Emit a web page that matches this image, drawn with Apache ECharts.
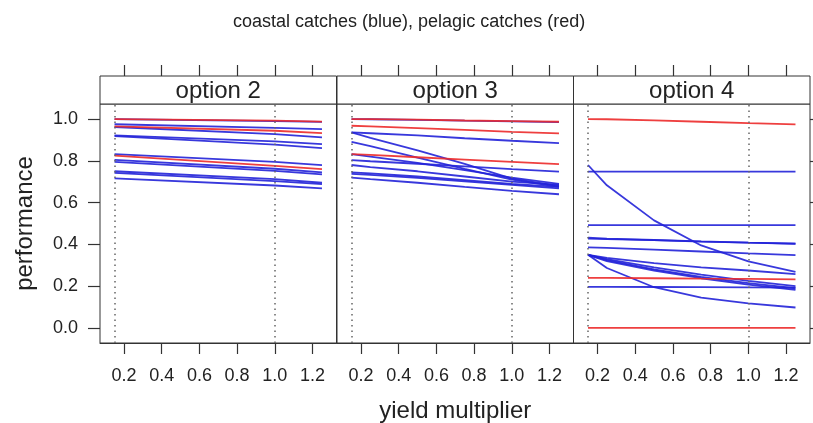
<!DOCTYPE html>
<html>
<head>
<meta charset="utf-8">
<script src="https://cdn.jsdelivr.net/npm/echarts@6/dist/echarts.min.js"></script>
<style>html,body{margin:0;padding:0;background:#fff}#c{width:813px;height:423px}</style>
</head>
<body>
<div id="c"></div>
<script>
// ---- data ----
const chartTitle = 'coastal catches (blue), pelagic catches (red)';
const panelTitles = ['option 2', 'option 3', 'option 4'];
const xTicks = [0.2, 0.4, 0.6, 0.8, 1.0, 1.2];
const yTicks = [0.0, 0.2, 0.4, 0.6, 0.8, 1.0];
const refLines = [0.15, 1.0];

const xsOption2 = [0.15, 1.0, 1.25];
const option2Blue = [
  [1.000, 0.990, 0.986],
  [0.975, 0.958, 0.952],
  [0.962, 0.928, 0.912],
  [0.922, 0.893, 0.880],
  [0.918, 0.878, 0.861],
  [0.832, 0.795, 0.779],
  [0.805, 0.762, 0.745],
  [0.795, 0.752, 0.735],
  [0.750, 0.712, 0.695],
  [0.742, 0.703, 0.688],
  [0.716, 0.682, 0.668]
];
const option2Red = [
  [1.000, 0.992, 0.988],
  [0.965, 0.944, 0.933],
  [0.825, 0.776, 0.760]
];

const xsOption3 = [0.15, 0.25, 0.5, 0.75, 1.0, 1.25];
const option3Blue = [
  [1.000, 0.999, 0.996, 0.992, 0.989, 0.985],
  [0.936, 0.932, 0.922, 0.908, 0.896, 0.885],
  [0.936, 0.910, 0.850, 0.785, 0.715, 0.680],
  [0.891, 0.870, 0.815, 0.762, 0.710, 0.675],
  [0.832, 0.820, 0.790, 0.755, 0.720, 0.690],
  [0.803, 0.798, 0.786, 0.773, 0.760, 0.748],
  [0.780, 0.770, 0.750, 0.725, 0.700, 0.685],
  [0.745, 0.740, 0.725, 0.708, 0.690, 0.675],
  [0.738, 0.733, 0.718, 0.702, 0.685, 0.668],
  [0.720, 0.712, 0.695, 0.675, 0.656, 0.640]
];
const option3Red = [
  [1.000, 1.000, 0.997, 0.993, 0.990, 0.987],
  [0.968, 0.965, 0.957, 0.948, 0.939, 0.931],
  [0.832, 0.828, 0.817, 0.806, 0.795, 0.784]
];

const xsOption4 = [0.15, 0.25, 0.5, 0.75, 1.0, 1.25];
const option4Blue = [
  [0.780, 0.683, 0.515, 0.395, 0.319, 0.269],
  [0.748, 0.748, 0.748, 0.748, 0.748, 0.748],
  [0.492, 0.492, 0.492, 0.492, 0.492, 0.492],
  [0.428, 0.425, 0.420, 0.413, 0.408, 0.404],
  [0.432, 0.428, 0.421, 0.414, 0.408, 0.403],
  [0.386, 0.383, 0.375, 0.366, 0.357, 0.349],
  [0.350, 0.335, 0.310, 0.290, 0.275, 0.258],
  [0.350, 0.330, 0.290, 0.255, 0.225, 0.200],
  [0.350, 0.325, 0.280, 0.245, 0.215, 0.190],
  [0.350, 0.320, 0.275, 0.238, 0.207, 0.182],
  [0.350, 0.287, 0.195, 0.145, 0.118, 0.098],
  [0.197, 0.197, 0.196, 0.195, 0.194, 0.193]
];
const option4Red = [
  [1.000, 0.999, 0.994, 0.987, 0.980, 0.974],
  [0.240, 0.240, 0.238, 0.236, 0.235, 0.233],
  [0.000, 0.000, 0.000, 0.000, 0.000, 0.000]
];

// ---- layout / styling ----
const panels = [
  { xs: xsOption2, blue: option2Blue, red: option2Red },
  { xs: xsOption3, blue: option3Blue, red: option3Red },
  { xs: xsOption4, blue: option4Blue, red: option4Red }
];
const FONT = '"Liberation Sans", Arial, Helvetica, sans-serif';
const AX = '#333';
const TXT = '#222';
const BLUE = '#2222d8';
const RED = '#ec2a2a';
const gLeft = [100, 337, 573.5];
const gW = 236.5, gTop = 104, gH = 239, stripH = 28;
const xMin = 0.073, xMax = 1.327, yMin = -0.072, yMax = 1.072;

const grid = [], xAxis = [], yAxis = [], series = [], graphic = [];
panels.forEach((p, i) => {
  grid.push({ left: gLeft[i], top: gTop, width: gW, height: gH, show: true,
    borderColor: AX, borderWidth: 1, backgroundColor: 'transparent',
    containLabel: false, outerBoundsMode: 'none' });
  xAxis.push({
    type: 'value', gridIndex: i, min: xMin, max: xMax, position: 'bottom',
    axisLine: { show: true, onZero: false, lineStyle: { color: AX, width: 1 } }, splitLine: { show: false },
    axisTick: { show: true, inside: false, length: 11, customValues: xTicks, lineStyle: { color: AX, width: 1.2 } },
    axisLabel: { show: true, customValues: xTicks, margin: 24, color: TXT, fontSize: 18, fontFamily: FONT,
      formatter: v => v.toFixed(1) },
    name: i === 1 ? 'yield multiplier' : '', nameLocation: 'middle', nameGap: 56, nameMoveOverlap: false,
    nameTextStyle: { color: TXT, fontSize: 24, fontFamily: FONT }
  });
  yAxis.push({
    type: 'value', gridIndex: i, min: yMin, max: yMax, position: 'left',
    axisLine: { show: false, onZero: false }, splitLine: { show: false },
    axisTick: { show: i === 0, length: 12, customValues: yTicks, lineStyle: { color: AX, width: 1.2 } },
    axisLabel: { show: i === 0, customValues: yTicks, margin: 22, color: TXT, fontSize: 18, fontFamily: FONT,
      formatter: v => v.toFixed(1) },
    name: i === 0 ? 'performance' : '', nameLocation: 'middle', nameGap: 63, nameRotate: 90, nameMoveOverlap: false,
    nameTextStyle: { color: TXT, fontSize: 24, fontFamily: FONT }
  });
  graphic.push({ type: 'rect', silent: true,
    shape: { x: gLeft[i], y: gTop - stripH, width: gW, height: stripH },
    style: { fill: '#fff', stroke: AX, lineWidth: 1 } });
  graphic.push({ type: 'text', silent: true, x: gLeft[i] + gW / 2, y: gTop - stripH / 2 + 1,
    style: { text: panelTitles[i], fill: TXT, font: '24px ' + FONT, align: 'center', verticalAlign: 'middle' } });

  // dotted reference lines
  series.push({ type: 'line', xAxisIndex: i, yAxisIndex: i, data: [], silent: true,
    markLine: { symbol: ['none', 'none'], silent: true, animation: false, label: { show: false },
      lineStyle: { color: '#666', type: [1.5, 4], width: 1.5 },
      data: refLines.map(v => ({ xAxis: v })) } });
  p.blue.forEach(vals => series.push({
    type: 'line', xAxisIndex: i, yAxisIndex: i, showSymbol: false, silent: true, animation: false,
    lineStyle: { color: BLUE, width: 1.8, opacity: 0.9 },
    data: p.xs.map((x, j) => [x, vals[j]])
  }));
  p.red.forEach(vals => series.push({
    type: 'line', xAxisIndex: i, yAxisIndex: i, showSymbol: false, silent: true, animation: false,
    lineStyle: { color: RED, width: 1.8, opacity: 0.9 },
    data: p.xs.map((x, j) => [x, vals[j]])
  }));
});
// top tick axes (above strips)
panels.forEach((p, i) => {
  xAxis.push({
    type: 'value', gridIndex: i, min: xMin, max: xMax, position: 'top', offset: stripH,
    axisLine: { show: false, onZero: false }, splitLine: { show: false },
    axisTick: { show: true, length: 11, customValues: xTicks, lineStyle: { color: AX, width: 1.2 } },
    axisLabel: { show: false, customValues: xTicks }
  });
});
// right tick axis on last panel
yAxis.push({
  type: 'value', gridIndex: 2, min: yMin, max: yMax, position: 'right',
  axisLine: { show: false, onZero: false }, splitLine: { show: false },
  axisTick: { show: true, length: 12, customValues: yTicks, lineStyle: { color: AX, width: 1.2 } },
  axisLabel: { show: false, customValues: yTicks }
});

const chart = echarts.init(document.getElementById('c'), null, { renderer: 'canvas' });
chart.setOption({
  animation: false,
  backgroundColor: '#fff',
  title: { text: chartTitle, left: 228, top: 8,
    textStyle: { color: TXT, fontSize: 18, fontWeight: 'normal', fontFamily: FONT } },
  grid, xAxis, yAxis, series, graphic
});
</script>
</body>
</html>
